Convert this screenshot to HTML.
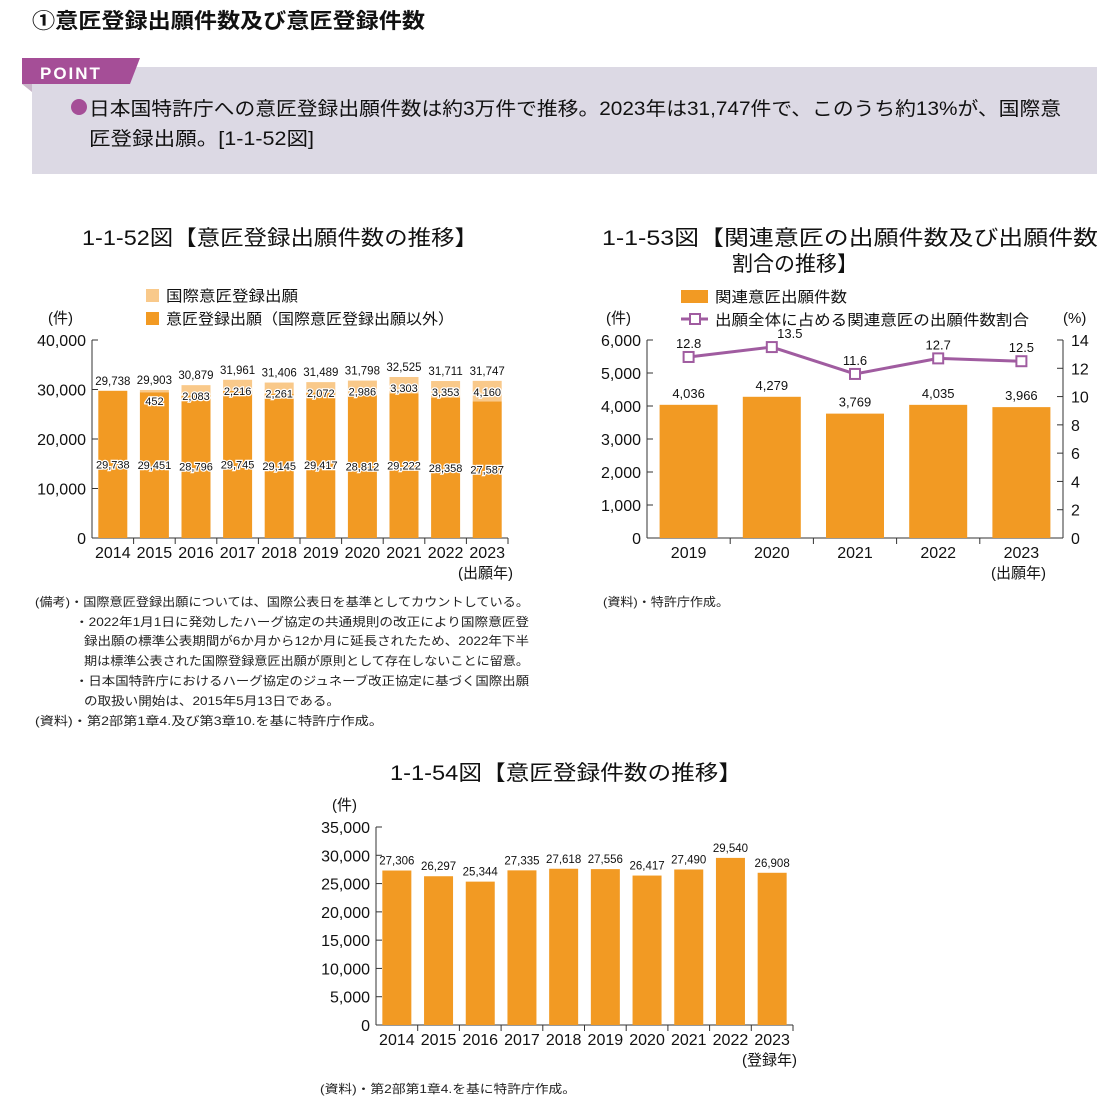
<!DOCTYPE html>
<html><head><meta charset="utf-8"><style>
body{margin:0;background:#fff;width:1118px;height:1106px;overflow:hidden;font-family:"Liberation Sans","Noto Sans CJK JP",sans-serif;}
svg text{font-family:"Liberation Sans","Noto Sans CJK JP",sans-serif;}
</style></head><body>
<svg id="s" width="1118" height="1106">
<text x="32" y="28" font-size="21" font-weight="bold" fill="#111" textLength="393" lengthAdjust="spacingAndGlyphs">①意匠登録出願件数及び意匠登録件数</text>
<rect x="32" y="67" width="1065" height="107" fill="#dcd9e4"/>
<polygon points="22,58 140,58 130,84 22,84" fill="#a54e97"/>
<polygon points="22,84 32,84 32,92" fill="#c9b6c9"/>
<text x="40" y="79" font-size="17" font-weight="bold" fill="#fff" letter-spacing="2">POINT</text>
<circle cx="79" cy="107" r="8" fill="#a54e97"/>
<text x="89" y="115" font-size="19" fill="#111" textLength="972" lengthAdjust="spacingAndGlyphs">日本国特許庁への意匠登録出願件数は約3万件で推移。2023年は31,747件で、このうち約13%が、国際意</text>
<text x="89" y="145" font-size="19" fill="#111" textLength="225" lengthAdjust="spacingAndGlyphs">匠登録出願。[1-1-52図]</text>

<text x="82" y="245" font-size="21" fill="#111" textLength="396" lengthAdjust="spacingAndGlyphs">1-1-52図【意匠登録出願件数の推移】</text>
<text x="602" y="245" font-size="21" fill="#111" textLength="496" lengthAdjust="spacingAndGlyphs">1-1-53図【関連意匠の出願件数及び出願件数</text>
<text x="732" y="271" font-size="21" fill="#111">割合の推移】</text>
<text x="390" y="780" font-size="21" fill="#111" textLength="352" lengthAdjust="spacingAndGlyphs">1-1-54図【意匠登録件数の推移】</text>

<g font-size="12" fill="#222">
<text x="35" y="606" textLength="494" lengthAdjust="spacingAndGlyphs">(備考)・国際意匠登録出願については、国際公表日を基準としてカウントしている。</text>
<text x="75" y="626" textLength="454" lengthAdjust="spacingAndGlyphs">・2022年1月1日に発効したハーグ協定の共通規則の改正により国際意匠登</text>
<text x="84" y="645" textLength="445" lengthAdjust="spacingAndGlyphs">録出願の標準公表期間が6か月から12か月に延長されたため、2022年下半</text>
<text x="84" y="665" textLength="445" lengthAdjust="spacingAndGlyphs">期は標準公表された国際登録意匠出願が原則として存在しないことに留意。</text>
<text x="75" y="685" textLength="454" lengthAdjust="spacingAndGlyphs">・日本国特許庁におけるハーグ協定のジュネーブ改正協定に基づく国際出願</text>
<text x="84" y="705" textLength="256" lengthAdjust="spacingAndGlyphs">の取扱い開始は、2015年5月13日である。</text>
<text x="35" y="725" textLength="348" lengthAdjust="spacingAndGlyphs">(資料)・第2部第1章4.及び第3章10.を基に特許庁作成。</text>
<text x="603" y="606" textLength="126" lengthAdjust="spacingAndGlyphs">(資料)・特許庁作成。</text>
<text x="320" y="1093" textLength="256" lengthAdjust="spacingAndGlyphs">(資料)・第2部第1章4.を基に特許庁作成。</text>
</g>
<g id="c1"></g><g id="c2"></g><g id="c3"></g>
</svg>
<script>
const years1 = ['2014','2015','2016','2017','2018','2019','2020','2021','2022','2023'];
const domestic1 = [29738,29451,28796,29745,29145,29417,28812,29222,28358,27587];
const intl1 = [0,452,2083,2216,2261,2072,2986,3303,3353,4160];
const total1 = [29738,29903,30879,31961,31406,31489,31798,32525,31711,31747];
const ticks1 = [0,10000,20000,30000,40000];

const years2 = ['2019','2020','2021','2022','2023'];
const related2 = [4036,4279,3769,4035,3966];
const ratio2 = [12.8,13.5,11.6,12.7,12.5];
const ticksL2 = [0,1000,2000,3000,4000,5000,6000];
const ticksR2 = [0,2,4,6,8,10,12,14];

const years3 = ['2014','2015','2016','2017','2018','2019','2020','2021','2022','2023'];
const reg3 = [27306,26297,25344,27335,27618,27556,26417,27490,29540,26908];
const ticks3 = [0,5000,10000,15000,20000,25000,30000,35000];

const NS='http://www.w3.org/2000/svg';
const OR='#f29a23', LT='#f9c98a', PU='#a05ca0';
function mk(p,tag,a,txt){const e=document.createElementNS(NS,tag);for(const k in a)e.setAttribute(k,a[k]);if(txt!==undefined)e.textContent=txt;p.appendChild(e);return e;}
const fmt=v=>v.toLocaleString('en-US');

// chart 1
(function(){
const g=document.getElementById('c1');
const x0=92,x1=508,y0=538,yt=340,max=40000;
const y=v=>y0-(v/max)*(y0-yt);
const step=(x1-x0)/years1.length,bw=29;
mk(g,'line',{x1:x0,y1:yt,x2:x0,y2:y0,stroke:'#333'});
mk(g,'line',{x1:x0,y1:y0,x2:x1,y2:y0,stroke:'#333'});
ticks1.forEach(t=>{mk(g,'line',{x1:x0,y1:y(t),x2:x0+6,y2:y(t),stroke:'#333'});
 const e=mk(g,'text',{x:x0-6,y:y(t)+6,'font-size':16,'text-anchor':'end',fill:'#111'},fmt(t));
 
 });
years1.forEach((yr,i)=>{
 const cx=x0+step*(i+0.5),bx=cx-bw/2;
 if(i>0) mk(g,'line',{x1:x0+step*i,y1:y0,x2:x0+step*i,y2:y0+6,stroke:'#333'});
 const b=mk(g,'rect',{x:bx,y:y(domestic1[i]),width:bw,height:y0-y(domestic1[i]),fill:OR});
 
 
 if(intl1[i]>0){const b2=mk(g,'rect',{x:bx,y:y(domestic1[i]+intl1[i]),width:bw,height:y(domestic1[i])-y(domestic1[i]+intl1[i]),fill:LT});
 
 
 mk(g,'text',{x:cx,y:y(domestic1[i]+intl1[i])+15,'font-size':11,'text-anchor':'middle',fill:'#111',stroke:'#fff','stroke-width':2.5,'paint-order':'stroke'},fmt(intl1[i]));}
 mk(g,'text',{x:cx,y:y(total1[i])-6,'font-size':11.5,'text-anchor':'middle',fill:'#111'},fmt(total1[i]));
 mk(g,'text',{x:cx,y:y(domestic1[i]/2)+4,'font-size':11,'text-anchor':'middle',fill:'#111',stroke:'#fff','stroke-width':2.5,'paint-order':'stroke'},fmt(domestic1[i]));
 const l=mk(g,'text',{x:cx,y:y0+20,'font-size':16,'text-anchor':'middle',fill:'#111'},yr);
 
 
});
mk(g,'line',{x1:x1,y1:y0,x2:x1,y2:y0+6,stroke:'#333'});
mk(g,'text',{x:48,y:323,'font-size':15,fill:'#111'},'(件)');
mk(g,'text',{x:458,y:578,'font-size':15,fill:'#111'},'(出願年)');
const l1=mk(g,'rect',{x:146,y:289,width:13,height:13,fill:LT});


mk(g,'text',{x:166,y:301,'font-size':15,fill:'#111',textLength:132,lengthAdjust:'spacingAndGlyphs'},'国際意匠登録出願');
const l2=mk(g,'rect',{x:146,y:312,width:13,height:13,fill:OR});


mk(g,'text',{x:166,y:324,'font-size':15,fill:'#111',textLength:288,lengthAdjust:'spacingAndGlyphs'},'意匠登録出願（国際意匠登録出願以外）');
})();

// chart 2
(function(){
const g=document.getElementById('c2');
const x0=647,x1=1063,y0=538,yt=340;
const y=v=>y0-(v/6000)*(y0-yt);
const yr=v=>y0-(v/14)*(y0-yt);
const step=(x1-x0)/years2.length,bw=58;
mk(g,'line',{x1:x0,y1:yt,x2:x0,y2:y0,stroke:'#333'});
mk(g,'line',{x1:x1,y1:yt,x2:x1,y2:y0,stroke:'#333'});
mk(g,'line',{x1:x0,y1:y0,x2:x1,y2:y0,stroke:'#333'});
ticksL2.forEach(t=>{mk(g,'line',{x1:x0,y1:y(t),x2:x0+6,y2:y(t),stroke:'#333'});
 mk(g,'text',{x:x0-6,y:y(t)+6,'font-size':16,'text-anchor':'end',fill:'#111'},fmt(t));});
ticksR2.forEach(t=>{mk(g,'line',{x1:x1-6,y1:yr(t),x2:x1,y2:yr(t),stroke:'#333'});
 mk(g,'text',{x:x1+8,y:yr(t)+6,'font-size':16,fill:'#111'},String(t));});
const pts=[];
years2.forEach((yy,i)=>{
 const cx=x0+step*(i+0.5);
 if(i>0) mk(g,'line',{x1:x0+step*i,y1:y0,x2:x0+step*i,y2:y0+6,stroke:'#333'});
 const b=mk(g,'rect',{x:cx-bw/2,y:y(related2[i]),width:bw,height:y0-y(related2[i]),fill:OR});
 
 
 mk(g,'text',{x:cx,y:y(related2[i])-7,'font-size':13,'text-anchor':'middle',fill:'#111'},fmt(related2[i]));
 mk(g,'text',{x:cx,y:y0+20,'font-size':16,'text-anchor':'middle',fill:'#111'},yy);
 pts.push([cx,yr(ratio2[i])]);
});
const ln=mk(g,'polyline',{points:pts.map(p=>p.join(',')).join(' '),fill:'none',stroke:PU,'stroke-width':3});


pts.forEach((p,i)=>{const m=mk(g,'rect',{x:p[0]-5,y:p[1]-5,width:10,height:10,fill:'#fff',stroke:PU,'stroke-width':2});
 
 
 const dx=i===1?18:0;
 mk(g,'text',{x:p[0]+dx,y:p[1]-9,'font-size':13,'text-anchor':'middle',fill:'#111'},ratio2[i].toFixed(1));});
mk(g,'text',{x:606,y:323,'font-size':15,fill:'#111'},'(件)');
mk(g,'text',{x:1063,y:323,'font-size':15,fill:'#111'},'(%)');
mk(g,'text',{x:991,y:578,'font-size':15,fill:'#111'},'(出願年)');
const lg=mk(g,'rect',{x:681,y:290,width:27,height:13,fill:OR});


mk(g,'text',{x:715,y:302,'font-size':15,fill:'#111',textLength:132,lengthAdjust:'spacingAndGlyphs'},'関連意匠出願件数');
mk(g,'line',{x1:681,y1:319,x2:708,y2:319,stroke:PU,'stroke-width':3});
mk(g,'rect',{x:690,y:314,width:10,height:10,fill:'#fff',stroke:PU,'stroke-width':2});
mk(g,'text',{x:715,y:325,'font-size':15,fill:'#111',textLength:314,lengthAdjust:'spacingAndGlyphs'},'出願全体に占める関連意匠の出願件数割合');
})();

// chart 3
(function(){
const g=document.getElementById('c3');
const x0=376,x1=793,y0=1025,yt=827;
const y=v=>y0-(v/35000)*(y0-yt);
const step=(x1-x0)/years3.length,bw=29;
mk(g,'line',{x1:x0,y1:yt,x2:x0,y2:y0,stroke:'#333'});
mk(g,'line',{x1:x0,y1:y0,x2:x1,y2:y0,stroke:'#333'});
ticks3.forEach(t=>{mk(g,'line',{x1:x0,y1:y(t),x2:x0+6,y2:y(t),stroke:'#333'});
 mk(g,'text',{x:x0-6,y:y(t)+6,'font-size':16,'text-anchor':'end',fill:'#111'},fmt(t));});
years3.forEach((yy,i)=>{
 const cx=x0+step*(i+0.5);
 if(i>0) mk(g,'line',{x1:x0+step*i,y1:y0,x2:x0+step*i,y2:y0+6,stroke:'#333'});
 const b=mk(g,'rect',{x:cx-bw/2,y:y(reg3[i]),width:bw,height:y0-y(reg3[i]),fill:OR});
 
 
 mk(g,'text',{x:cx,y:y(reg3[i])-6,'font-size':11.5,'text-anchor':'middle',fill:'#111'},fmt(reg3[i]));
 mk(g,'text',{x:cx,y:y0+20,'font-size':16,'text-anchor':'middle',fill:'#111'},yy);
});
mk(g,'line',{x1:x1,y1:y0,x2:x1,y2:y0+6,stroke:'#333'});
mk(g,'text',{x:332,y:810,'font-size':15,fill:'#111'},'(件)');
mk(g,'text',{x:742,y:1065,'font-size':15,fill:'#111'},'(登録年)');
})();
</script>
</body></html>
